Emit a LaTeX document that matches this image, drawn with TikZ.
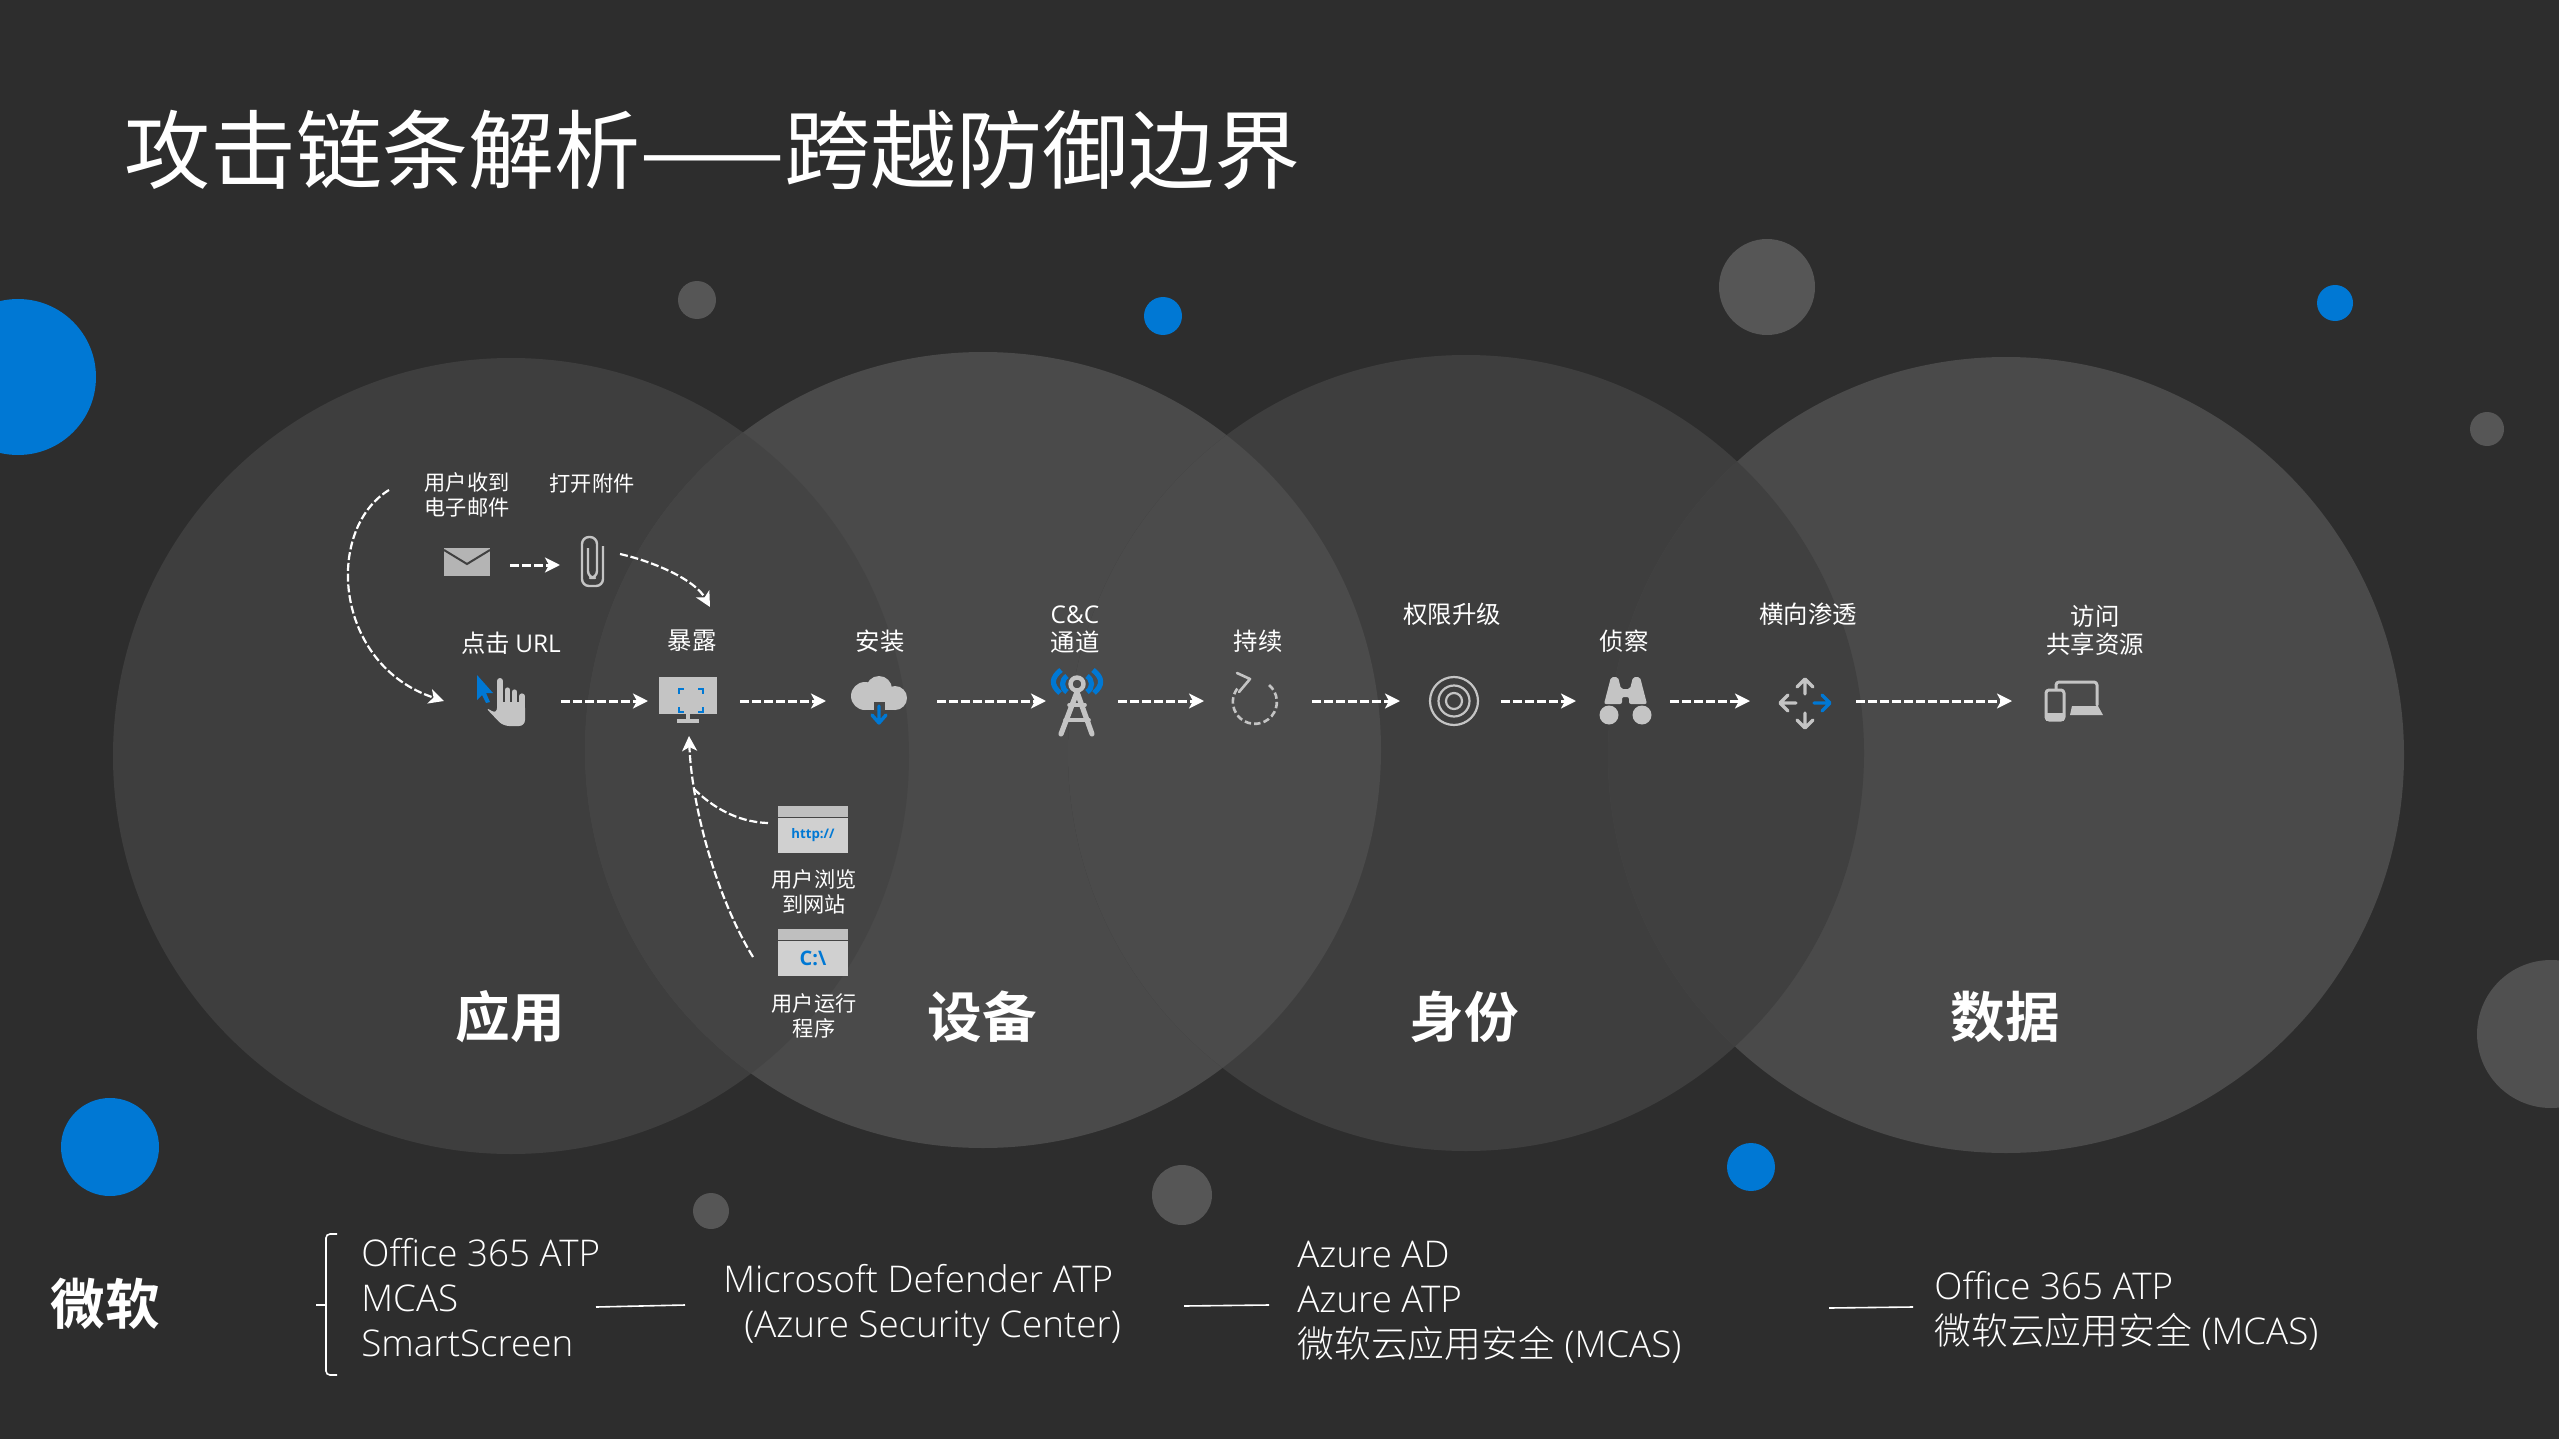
\documentclass[tikz,border=0pt]{standalone}
\usepackage{fontspec}
\usepackage{tikz}
\usetikzlibrary{arrows.meta}
\IfFontExistsTF{Open Sans Light}{\setmainfont{Open Sans Light}}{\setmainfont{Open Sans}}
\IfFontExistsTF{Noto Sans CJK SC Light}{\newfontfamily\zh{Noto Sans CJK SC Light}}{\newfontfamily\zh{Noto Sans CJK SC}}
\newfontfamily\zhr{Noto Sans CJK SC}
\newfontfamily\zhb{Noto Sans CJK SC Bold}
\newfontfamily\latb{Open Sans}[BoldFont=* Bold]
\definecolor{bgdark}{HTML}{2D2D2D}
\definecolor{msblue}{HTML}{0078D4}
\definecolor{ballgrey}{HTML}{565656}
\definecolor{icongrey}{HTML}{C4C4C4}
\definecolor{headgrey}{HTML}{BFBFBF}
\definecolor{bodygrey}{HTML}{D0D0D0}
\tikzset{
  >={Stealth[length=7.5pt,width=7.5pt,inset=2pt]},
  flow/.style={->,white,line width=1.5pt,dash pattern=on 4.5pt off 1.5pt},
  bendflow/.style={white,line width=1.1pt,dash pattern=on 4pt off 1.4pt},
  stepbox/.style={inner sep=0pt,outer sep=0pt,minimum height=35pt},
  labeltext/.style={inner sep=0pt,text=white,align=center,font=\fontsize{10.6}{12.5}\selectfont\zhr},
  steptext/.style={inner sep=0pt,text=white,align=center,font=\fontsize{12.2}{14}\selectfont\zhr},
  bigtext/.style={inner sep=0pt,text=white,font=\fontsize{27.3}{30}\selectfont\zhb},
  prodtext/.style={inner sep=0pt,text=white,align=left,anchor=west,font=\fontsize{18.4}{22.5}\selectfont},
  prodline/.style={white,line width=0.8pt},
  iconline/.style={icongrey,line width=1.7pt,line cap=round,line join=round},
  blueline/.style={msblue,line width=1.7pt,line cap=round,line join=round},
  blueball/.style={fill=msblue},
  greyball/.style={fill=ballgrey},
  winhead/.style={fill=headgrey,inner sep=0pt,outer sep=0pt,minimum width=35pt,minimum height=5.6pt,anchor=north},
  winbody/.style={fill=bodygrey,inner sep=0pt,outer sep=0pt,minimum width=35pt,minimum height=17.5pt,anchor=north,text=msblue,font=\latb\bfseries},
}
\begin{document}
\begin{tikzpicture}[x=0.5pt,y=-0.5pt]
  \useasboundingbox (0,0) rectangle (2559,1439);
  \clip (0,0) rectangle (2559,1439);
  \fill[bgdark] (0,0) rectangle (2559,1439);

  \fill[blueball] (18,377) circle (78);
  \fill[greyball] (697,300) circle (19);
  \fill[blueball] (1163,316) circle (19);
  \fill[greyball] (1767,287) circle (48);
  \fill[blueball] (2335,303) circle (18);
  \fill[greyball] (2487,429) circle (17);
  \fill[ballgrey!85!bgdark] (2551,1034) circle (74);
  \fill[blueball] (110,1147) circle (49);
  \fill[greyball] (711,1211) circle (18);
  \fill[greyball] (1182,1195) circle (30);
  \fill[blueball] (1751,1167) circle (24);

  \fill[fill=white!24.5!black] (511,756) circle (398);
  \fill[fill=white!29!black] (983,750) circle (398);
  \fill[fill=white!24.5!black] (1466,753) circle (398);
  \fill[fill=white!29!black] (2006,755) circle (398);
  \begin{scope}
    \clip (511,756) circle (398);
    \fill[fill=white!26.5!black] (983,750) circle (398);
  \end{scope}
  \begin{scope}
    \clip (983,750) circle (398);
    \fill[fill=white!29.5!black] (1466,753) circle (398);
  \end{scope}
  \begin{scope}
    \clip (1466,753) circle (398);
    \fill[fill=white!25!black] (2006,755) circle (398);
  \end{scope}

  \node[inner sep=0pt,text=white,anchor=west,font=\fontsize{43}{50}\selectfont\zhr] (title) at (124,150) {攻击链条解析——跨越防御边界};

  \node[stepbox,minimum width=58.5pt] (click) at (502.5,701) {};
  \node[stepbox,minimum width=46pt] (expose) at (694,701) {};
  \node[stepbox,minimum width=55.5pt] (install) at (881.5,701) {};
  \node[stepbox,minimum width=36pt] (channel) at (1082,701) {};
  \node[stepbox,minimum width=54pt] (persist) at (1258,701) {};
  \node[stepbox,minimum width=50.5pt] (privesc) at (1450.5,701) {};
  \node[stepbox,minimum width=47pt] (recon) at (1623,701) {};
  \node[stepbox,minimum width=53pt] (lateral) at (1803,701) {};
  \node[stepbox,minimum width=49pt] (access) at (2061,701) {};
  \node[stepbox,minimum width=25pt,minimum height=15pt] (mail) at (485,565) {};
  \node[stepbox,minimum width=30pt,minimum height=15pt] (clipicon) at (590,565) {};

  \draw[flow] (click) -- (expose);
  \draw[flow] (expose) -- (install);
  \draw[flow] (install) -- (channel);
  \draw[flow] (channel) -- (persist);
  \draw[flow] (persist) -- (privesc);
  \draw[flow] (privesc) -- (recon);
  \draw[flow] (recon) -- (lateral);
  \draw[flow] (lateral) -- (access);
  \draw[flow] (mail) -- (clipicon);

  \coordinate (mailfrom) at (389,490);
  \coordinate (clipfrom) at (620,554);
  \coordinate (exposetop) at (710,607);
  \coordinate (exposeup) at (689,736);
  \coordinate (runfrom) at (753,957);
  \coordinate (webfrom) at (768,823);
  \coordinate (webjoin) at (693,788);
  \draw[bendflow,->] (mailfrom) .. controls (324,530) and (334,665) .. (click.west);
  \draw[bendflow,->] (clipfrom) .. controls (655,562) and (695,580) .. (exposetop);
  \draw[bendflow,->] (runfrom) .. controls (718,900) and (692,810) .. (exposeup);
  \draw[bendflow] (webfrom) .. controls (735,822) and (710,805) .. (webjoin);

  \node[labeltext] (lblmail) at (467,495) {用户收到\\电子邮件};
  \node[labeltext] (lblclip) at (592,483) {打开附件};
  \node[steptext] (lblclick) at (511,643) {点击 {\latb URL}};
  \node[steptext] (lblexpose) at (692,641) {暴露};
  \node[steptext] (lblinstall) at (880,641) {安装};
  \node[steptext] (lblchannel) at (1075,630) {{\latb C\&C}\\通道};
  \node[steptext] (lblpersist) at (1258,641) {持续};
  \node[steptext] (lblprivesc) at (1452,614) {权限升级};
  \node[steptext] (lblrecon) at (1624,641) {侦察};
  \node[steptext] (lbllateral) at (1808,614) {横向渗透};
  \node[steptext] (lblaccess) at (2095,630) {访问\\共享资源};
  \node[labeltext] (lblweb) at (814,892) {用户浏览\\到网站};
  \node[labeltext] (lblrun) at (814,1016) {用户运行\\程序};

  \node[bigtext] (appzone) at (510,1017) {应用};
  \node[bigtext] (devzone) at (982,1017) {设备};
  \node[bigtext] (idzone) at (1464,1017) {身份};
  \node[bigtext] (datazone) at (2005,1017) {数据};
  \node[bigtext] (msname) at (105,1304) {微软};

  \node[winhead] (webhead) at (813,806) {};
  \node[winbody,font=\fontsize{6.6}{8}\selectfont\latb\bfseries] (webbody) at (813,818) {http://};
  \node[winhead] (runhead) at (813,929) {};
  \node[winbody,font=\fontsize{10}{12}\selectfont\latb\bfseries] (runbody) at (813,941) {C:\textbackslash};

  % mail and clip
  \fill[icongrey!92!black] (444,548) rectangle (490,576);
  \draw[white!25!black,line width=1pt] (444,550) -- (467,564) -- (490,550);
  \draw[iconline,line width=1.2pt,rounded corners=3.5pt,line cap=butt] (603,546) -- (603,586) -- (582,586) -- (582,537) -- (597,537) -- (597,578) -- (588,578) -- (588,548);

  % click
  \fill[msblue] (477,675) -- (493,693) -- (486,693) -- (490,702) -- (486,703) -- (482,695) -- (477,700) -- cycle;
  \fill[icongrey,rounded corners=3pt] (485,707) -- (497,714) -- (497,702) -- (525,702) -- (525,726) -- (503,726) -- cycle;
  \draw[iconline,line width=3pt] (500,681) -- (500,708);
  \draw[iconline,line width=2.6pt] (507.5,690) -- (507.5,708);
  \draw[iconline,line width=2.6pt] (514.5,692) -- (514.5,708);
  \draw[iconline,line width=2.6pt] (522,696) -- (522,708);

  % monitor
  \fill[icongrey] (659,677) rectangle (717,714);
  \fill[icongrey] (686,714) rectangle (690,719);
  \fill[icongrey] (677,719) rectangle (699,723);
  \draw[msblue,line width=0.7pt] (679,694) -- (679,689) -- (684,689) (698,689) -- (703,689) -- (703,694) (703,707) -- (703,712) -- (698,712) (684,712) -- (679,712) -- (679,707);

  % cloud
  \fill[icongrey] (879,689) circle (13) (865,696) circle (14) (895,698) circle (12);
  \fill[icongrey] (865,696) rectangle (895,710);
  \fill[white!28!black] (874,702) rectangle (885,711);
  \draw[blueline] (879,706) -- (879,722) (872,715) -- (879,723) -- (886,715);

  % tower
  \draw[iconline,line width=2.6pt] (1077,692) -- (1061,734) (1077,692) -- (1092,734);
  \draw[iconline,line width=1.8pt] (1069,705) -- (1085,705) (1065,720) -- (1089,720);
  \draw[iconline,line width=2.2pt] (1077,684) circle (6.5);
  \draw[blueline,line cap=butt,line width=2.6pt] (1061,670) .. controls (1051,678) and (1051,685) .. (1060,693);
  \draw[blueline,line cap=butt,line width=2.6pt] (1067,676) .. controls (1061,680) and (1061,688) .. (1067,692);
  \draw[blueline,line cap=butt,line width=2.6pt] (1093,670) .. controls (1103,678) and (1103,685) .. (1094,693);
  \draw[blueline,line cap=butt,line width=2.6pt] (1087,676) .. controls (1093,680) and (1093,688) .. (1087,692);

  % persist
  \draw[iconline,line width=1.3pt,line cap=butt,dash pattern=on 3.2pt off 1.6pt] (1269,685) arc[start angle=50,end angle=-225,radius=11pt];
  \draw[iconline,line width=1.3pt] (1237,673) -- (1250,679) -- (1239,692);

  % target
  \draw[iconline,line width=1.1pt] (1454,701) circle (24) (1454,701) circle (15.5) (1454,701) circle (8);

  % binoculars
  \fill[icongrey] (1609,715) circle (9.5) (1642,715) circle (9.5);
  \fill[icongrey,rounded corners=1pt] (1611,677) -- (1618,677) -- (1621,689) -- (1630,689) -- (1633,677) -- (1640,677) -- (1647,704) -- (1629,704) -- (1629,697) -- (1622,697) -- (1622,704) -- (1604,704) -- cycle;

  % lateral
  \draw[iconline] (1805,694) -- (1805,680) (1797,687) -- (1805,679) -- (1813,687);
  \draw[iconline] (1796,703) -- (1781,703) (1788,695) -- (1780,703) -- (1788,711);
  \draw[iconline] (1805,713) -- (1805,727) (1797,720) -- (1805,728) -- (1813,720);
  \draw[blueline] (1814,703) -- (1829,703) (1822,695) -- (1830,703) -- (1822,711);

  % devices
  \draw[iconline,line width=1.5pt,rounded corners=1.5pt] (2046,690) rectangle (2064,720);
  \fill[icongrey] (2046,713) rectangle (2064,721);
  \draw[iconline,line width=1.5pt,rounded corners=1.5pt] (2056,689) -- (2056,682) -- (2097,682) -- (2097,705);
  \fill[icongrey] (2072,706) -- (2098,706) -- (2103,715) -- (2070,715) -- cycle;

  % bottom row
  \node[prodtext] (apps) at (361,1298) {Office 365 ATP\\MCAS\\SmartScreen};
  \node[prodtext] (devices) at (723,1305) {Microsoft Defender ATP\\\hspace*{10.5pt}(Azure Security Center)};
  \node[prodtext] (identity) at (1297,1302) {Azure AD\\Azure ATP\\{\zh 微软云应用安全} (MCAS)};
  \node[prodtext] (data) at (1934,1311) {Office 365 ATP\\{\zh 微软云应用安全} (MCAS)};

  \coordinate (apprail) at (326,1305);
  \draw[prodline,rounded corners=2pt] (337,1234) -- (326,1234) -- (326,1375) -- (337,1375);
  \draw[prodline] (316,1305) -- (apprail);
  \coordinate (lineaa) at (596,1307);
  \coordinate (lineab) at (685,1305);
  \coordinate (lineba) at (1184,1306);
  \coordinate (linebb) at (1269,1305);
  \coordinate (lineca) at (1829,1308);
  \coordinate (linecb) at (1913,1307);
  \draw[prodline] (lineaa) -- (lineab);
  \draw[prodline] (lineba) -- (linebb);
  \draw[prodline] (lineca) -- (linecb);
\end{tikzpicture}
\end{document}
